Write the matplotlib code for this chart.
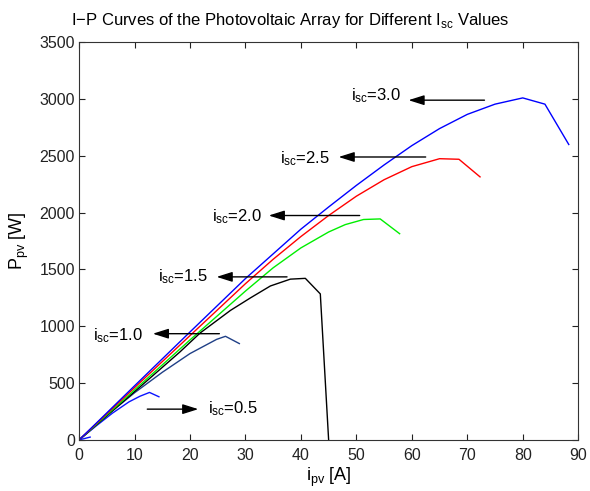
import numpy as np
import matplotlib
matplotlib.use("Agg")
import matplotlib.pyplot as plt

plt.rcParams['font.family'] = ['Liberation Sans', 'DejaVu Sans']
plt.rcParams['mathtext.fontset'] = 'custom'
plt.rcParams['mathtext.rm'] = 'Liberation Sans'

# ---- dane ----
i_05 = [2.0, 0, 3, 6, 9, 11, 12.7, 14.4]
p_05 = [25, 0, 120, 235, 335, 385, 418, 380]

i_10 = [0, 5, 10, 15, 20, 24.8, 26.4, 28.9]
p_10 = [0, 215, 415, 595, 760, 885, 912, 848]

i_15 = [0, 10, 18.2, 21.8, 27.3, 30.9, 34.5, 38.1, 40.8, 43.5, 45.0]
p_15 = [0, 425, 775, 940, 1140, 1250, 1355, 1415, 1422, 1285, 0]

i_20 = [0, 10, 20, 30, 35, 40, 45, 48, 51.3, 54.3, 57.8]
p_20 = [0, 440, 880, 1310, 1515, 1690, 1830, 1895, 1940, 1945, 1815]

i_25 = [0, 10, 20, 30, 35, 40, 45, 50, 55, 60, 65, 68.5, 72.3]
p_25 = [0, 460, 918, 1375, 1590, 1790, 1975, 2145, 2290, 2405, 2475, 2470, 2315]

i_30 = [0, 10, 20, 30, 40, 45, 50, 55, 60, 65, 70, 75, 80, 84, 88.3]
p_30 = [0, 476, 950, 1420, 1855, 2050, 2240, 2420, 2590, 2740, 2865, 2955, 3010, 2955, 2600]

# etykiety i strzalki: (tekst, x_tekstu, y_tekstu, x_ogon, x_grot, y_strzalki)
etykiety = ['3.0', '2.5', '2.0', '1.5', '1.0', '0.5']
tekst_x = [49.0, 36.2, 23.9, 14.3, 2.6, 23.2]
tekst_y = [3033, 2475, 1966, 1440, 917, 271]
ogon_x = [73.1, 62.5, 50.6, 37.5, 25.3, 12.3]
grot_x = [59.4, 46.8, 34.2, 24.8, 13.3, 21.5]
strz_y = [2990, 2490, 1975, 1435, 935, 271]

x_ticks = list(range(0, 91, 10))
y_ticks = list(range(0, 3501, 500))

fig = plt.figure(figsize=(5.9, 4.91), dpi=100)
ax = fig.add_axes([0.134, 0.104, 0.846, 0.810])

ax.plot(i_05, p_05, color='#0a14ff', lw=1.0)
ax.plot(i_10, p_10, color='#1f3f86', lw=1.0)
ax.plot(i_15, p_15, color='black', lw=1.0)
ax.plot(i_20, p_20, color='#00ee00', lw=1.0)
ax.plot(i_25, p_25, color='#ff0000', lw=1.0)
ax.plot(i_30, p_30, color='#0000ff', lw=1.0)

for lab, tx, ty, x0, x1, ya in zip(etykiety, tekst_x, tekst_y, ogon_x, grot_x, strz_y):
    ax.text(tx, ty, r'$\mathregular{i_{sc}}$=' + lab, fontsize=12, va='center', ha='left')
    ax.annotate('', xy=(x1, ya), xytext=(x0, ya),
                arrowprops=dict(arrowstyle='-|>,head_length=0.95,head_width=0.3',
                                color='black', lw=1.0, mutation_scale=10,
                                shrinkA=0, shrinkB=0))

ax.set_xlim(0, 90)
ax.set_ylim(0, 3500)
ax.set_xticks(x_ticks)
ax.set_yticks(y_ticks)
ax.tick_params(direction='in', length=4, width=0.8, top=True, right=True,
               labelsize=11.5, colors='#222222')
ax.tick_params(axis='x', pad=6)
ax.tick_params(axis='y', pad=3)
for s in ax.spines.values():
    s.set_color('#333333')
    s.set_linewidth(0.8)

ax.set_xlabel(r'$\mathregular{i_{pv}}$ [A]', fontsize=13, labelpad=2)
ax.set_ylabel(r'$\mathregular{P_{pv}}$ [W]', fontsize=13, labelpad=6)
fig.text(0.492, 0.958, r'I$-$P Curves of the Photovoltaic Array for Different I$_\mathregular{sc}$ Values',
         fontsize=12, ha='center', va='center')

fig.savefig('out.png', dpi=100)
